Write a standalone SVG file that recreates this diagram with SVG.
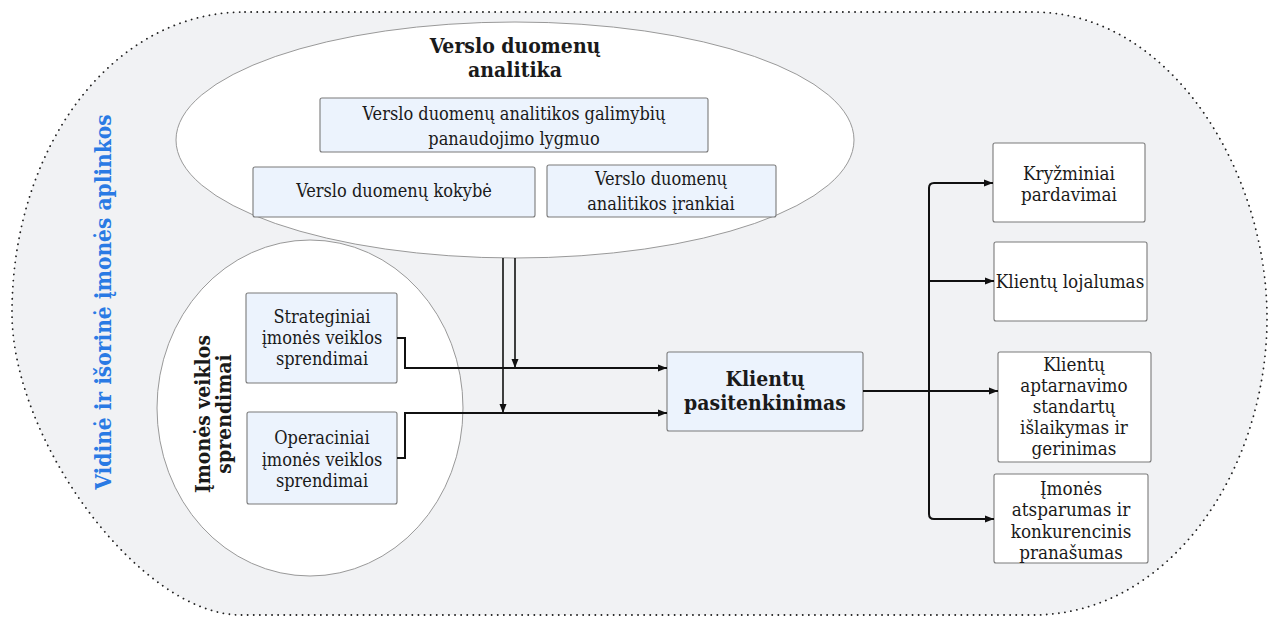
<svg xmlns="http://www.w3.org/2000/svg" width="1269" height="618" viewBox="0 0 1269 618">
  <style>
    .env { fill: #f1f2f4; stroke: #222; stroke-width: 1.8; stroke-dasharray: 0.1 6; stroke-linecap: round; }
    .oval { fill: #ffffff; stroke: #999; stroke-width: 1; }
    .box { fill: #ecf3fd; stroke: #7a7a7a; stroke-width: 1.1; }
    .wbox { fill: #ffffff; stroke: #7a7a7a; stroke-width: 1.1; }
    text { font-family: "DejaVu Serif", "Liberation Serif", serif; font-stretch: condensed; fill: #1a1a1a; text-anchor: middle; }
    .t { font-size: 18px; }
    .r { font-size: 18.7px; }
    .h { font-size: 21px; font-weight: bold; }
    .env-label { font-size: 22.5px; font-weight: bold; fill: #2a7ae4; }
    .link { fill: none; stroke: #111; stroke-width: 2; }
    .feed { fill: none; stroke: #111; stroke-width: 1.6; }
  </style>
  <defs>
    <marker id="arrow" markerUnits="userSpaceOnUse" markerWidth="10" markerHeight="8" refX="9" refY="4" orient="auto">
      <path d="M0,0.5 L9,4 L0,7.5 Z" fill="#111"/>
    </marker>
  </defs>

  <!-- surrounding environment -->
  <g id="environment">
    <path class="env" d="M245,12 L1033,12 C1170,12 1267,170 1267,318 C1267,470 1170,615 1033,615 L241,615 C140,615 12,440 12,313 C12,150 110,12 245,12 Z"/>
    <text class="env-label" transform="translate(111,302) rotate(-90)">Vidinė ir išorinė įmonės aplinkos</text>
  </g>

  <!-- decisions area -->
  <g id="decisions">
    <ellipse class="oval" cx="310" cy="408" rx="153" ry="168"/>
    <text class="h" transform="translate(210,414) rotate(-90)"><tspan x="0" y="0">Įmonės veiklos</tspan><tspan x="0" y="21">sprendimai</tspan></text>
  </g>

  <!-- analytics area -->
  <g id="analytics">
    <ellipse class="oval" cx="515" cy="140" rx="339" ry="118"/>
    <text class="h"><tspan x="515" y="53">Verslo duomenų</tspan><tspan x="515" y="77">analitika</tspan></text>
  </g>

  <g id="usage-level">
    <rect class="box" x="320" y="98" width="388" height="54" rx="2"/>
    <text class="t"><tspan x="514" y="120">Verslo duomenų analitikos galimybių</tspan><tspan x="514" y="145">panaudojimo lygmuo</tspan></text>
  </g>
  <g id="data-quality">
    <rect class="box" x="253" y="167" width="282" height="50" rx="2"/>
    <text class="t" x="394" y="197">Verslo duomenų kokybė</text>
  </g>
  <g id="analytics-tools">
    <rect class="box" x="547" y="165" width="229" height="52" rx="2"/>
    <text class="t"><tspan x="661" y="185">Verslo duomenų</tspan><tspan x="661" y="210">analitikos įrankiai</tspan></text>
  </g>

  <g id="strategic">
    <rect class="box" x="246" y="293" width="151" height="90" rx="2"/>
    <text class="t"><tspan x="322" y="323">Strateginiai</tspan><tspan x="322" y="344">įmonės veiklos</tspan><tspan x="322" y="365">sprendimai</tspan></text>
  </g>
  <g id="operational">
    <rect class="box" x="247" y="412" width="150" height="92" rx="2"/>
    <text class="t"><tspan x="322" y="444">Operaciniai</tspan><tspan x="322" y="466">įmonės veiklos</tspan><tspan x="322" y="487">sprendimai</tspan></text>
  </g>

  <g id="satisfaction">
    <rect class="box" x="667" y="352" width="196" height="79" rx="2"/>
    <text class="h"><tspan x="765" y="386">Klientų</tspan><tspan x="765" y="410">pasitenkinimas</tspan></text>
  </g>

  <g id="cross-selling">
    <rect class="wbox" x="993" y="143" width="152" height="79" rx="2"/>
    <text class="r"><tspan x="1069" y="180">Kryžminiai</tspan><tspan x="1069" y="201">pardavimai</tspan></text>
  </g>
  <g id="loyalty">
    <rect class="wbox" x="994" y="242" width="153" height="79" rx="2"/>
    <text class="r" x="1070" y="288">Klientų lojalumas</text>
  </g>
  <g id="service-standards">
    <rect class="wbox" x="998" y="352" width="153" height="110" rx="2"/>
    <text class="r"><tspan x="1074" y="371">Klientų</tspan><tspan x="1074" y="392">aptarnavimo</tspan><tspan x="1074" y="413">standartų</tspan><tspan x="1074" y="434">išlaikymas ir</tspan><tspan x="1074" y="455">gerinimas</tspan></text>
  </g>
  <g id="resilience">
    <rect class="wbox" x="994" y="474" width="154" height="89" rx="2"/>
    <text class="r"><tspan x="1071" y="495">Įmonės</tspan><tspan x="1071" y="516">atsparumas ir</tspan><tspan x="1071" y="538">konkurencinis</tspan><tspan x="1071" y="559">pranašumas</tspan></text>
  </g>

  <!-- connectors -->
  <g id="connectors">
    <path class="feed" d="M515,258 V368" marker-end="url(#arrow)"/>
    <path class="feed" d="M503,258 V413" marker-end="url(#arrow)"/>
    <path class="link" d="M397,338 H405 V368 H667" marker-end="url(#arrow)"/>
    <path class="link" d="M397,458 H405 V413 H667" marker-end="url(#arrow)"/>
    <path class="link" d="M863,391 H998" marker-end="url(#arrow)"/>
    <path class="link" d="M929,391 V188 Q929,183 934,183 H993" marker-end="url(#arrow)"/>
    <path class="link" d="M929,281 H994" marker-end="url(#arrow)"/>
    <path class="link" d="M929,391 V514 Q929,519 934,519 H994" marker-end="url(#arrow)"/>
  </g>
</svg>
